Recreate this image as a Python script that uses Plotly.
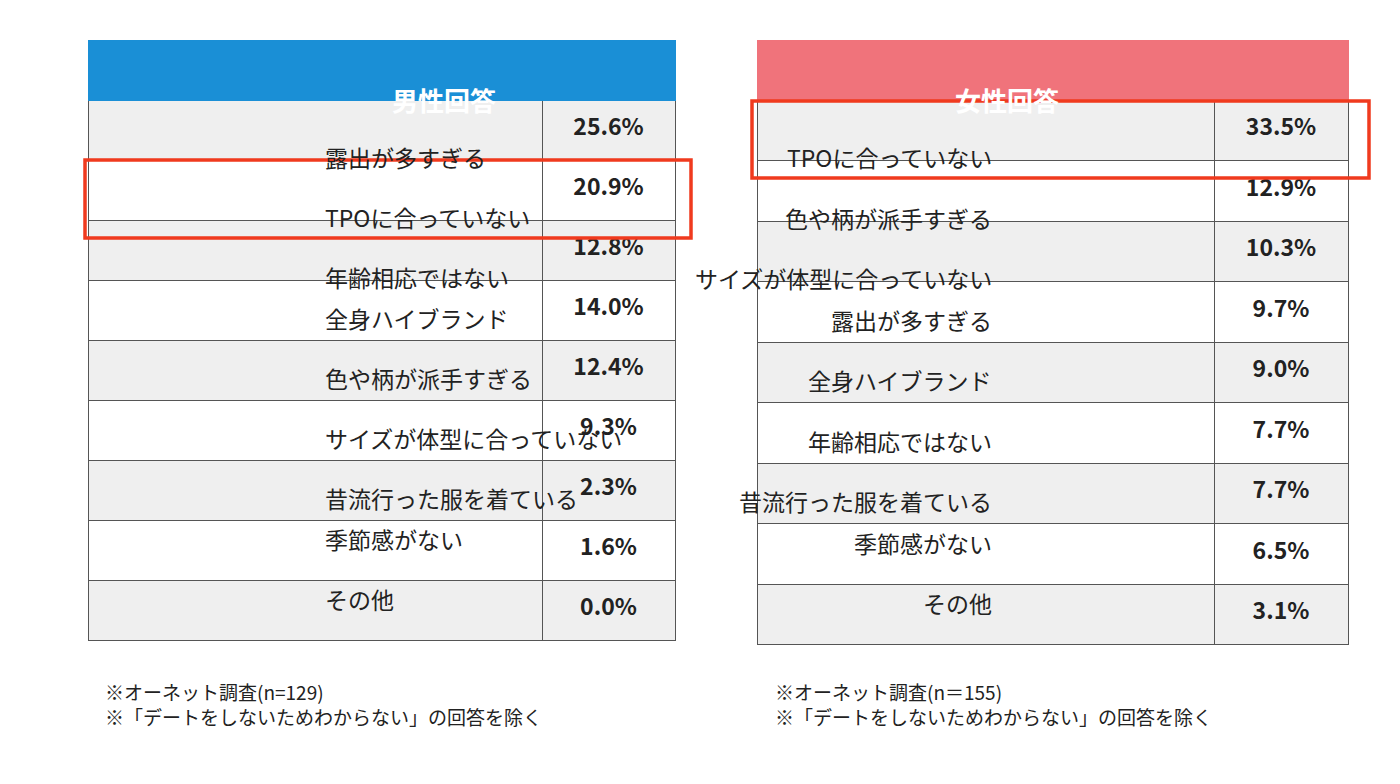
import plotly.graph_objects as go

W, H = 1400, 784

male_items = ["露出が多すぎる", "TPOに合っていない", "年齢相応ではない", "全身ハイブランド",
              "色や柄が派手すぎる", "サイズが体型に合っていない", "昔流行った服を着ている",
              "季節感がない", "その他"]
male_values = ["25.6%", "20.9%", "12.8%", "14.0%", "12.4%", "9.3%", "2.3%", "1.6%", "0.0%"]

female_items = ["TPOに合っていない", "色や柄が派手すぎる", "サイズが体型に合っていない",
                "露出が多すぎる", "全身ハイブランド", "年齢相応ではない", "昔流行った服を着ている",
                "季節感がない", "その他"]
female_values = ["33.5%", "12.9%", "10.3%", "9.7%", "9.0%", "7.7%", "7.7%", "6.5%", "3.1%"]

FONT = "Noto Sans CJK JP"
OFF = 8  # plotly table draws a few px right/down of its domain


def px_x(v):
    return v / W


def px_y(v):
    return 1 - v / H


fig = go.Figure()


def add_table(title, color, items, values, x0, x1, split, row_h):
    fills = ["#efefef" if i % 2 == 0 else "white" for i in range(len(items))]
    fig.add_trace(go.Table(
        domain=dict(x=[px_x(x0 - OFF), px_x(x1 - OFF)], y=[px_y(670), px_y(40 - OFF)]),
        columnwidth=[split - x0, x1 - split],
        header=dict(values=["", ""], fill_color=color, line_color=color, height=60),
        cells=dict(
            values=[[""] * len(items), [f"<b>{v}</b>" for v in values]],
            fill_color=[fills, fills],
            line_color="#555555",
            font=dict(family=FONT, size=23, color="#222222"),
            align="center",
            height=row_h,
        ),
    ))
    fig.add_annotation(text=f"<b>{title}</b>", xref="paper", yref="paper",
                       x=px_x((x0 + x1) / 2), y=px_y(71), showarrow=False,
                       font=dict(family=FONT, size=26, color="white"))
    for i, t in enumerate(items):
        fig.add_annotation(text=t, xref="paper", yref="paper",
                           x=px_x((x0 + split) / 2), y=px_y(100 + row_h * (i + 0.5)),
                           showarrow=False, font=dict(family=FONT, size=23, color="#222222"))


add_table("男性回答", "#1a8fd6", male_items, male_values, 88, 675, 542, 60)
add_table("女性回答", "#f0737b", female_items, female_values, 757, 1348, 1214, 60.5)

for (x0, y0, x1, y1) in [(77, 152, 683, 230), (744, 93, 1361, 170)]:
    fig.add_shape(type="rect", xref="paper", yref="paper",
                  x0=px_x(x0), x1=px_x(x1), y0=px_y(y1), y1=px_y(y0),
                  line=dict(color="#f03a1e", width=3.5))

notes = [(95, "※オーネット調査(n=129)<br>※「デートをしないためわからない」の回答を除く"),
         (765, "※オーネット調査(n＝155)<br>※「デートをしないためわからない」の回答を除く")]
for x, t in notes:
    fig.add_annotation(text=t, xref="paper", yref="paper", x=px_x(x), y=px_y(668),
                       xanchor="left", yanchor="top", showarrow=False, align="left",
                       font=dict(family=FONT, size=19, color="#222222"))

fig.update_layout(width=W, height=H, margin=dict(l=0, r=0, t=0, b=0),
                  paper_bgcolor="white", plot_bgcolor="white")
fig.write_html("out.html")
